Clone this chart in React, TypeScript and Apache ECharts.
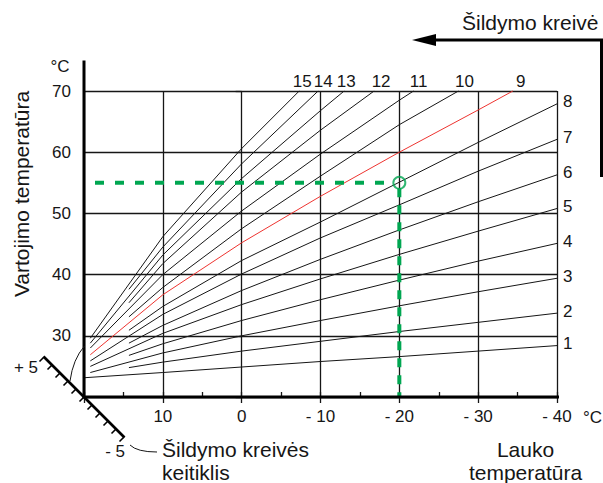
import React, { useEffect, useRef } from 'react';
import * as echarts from 'echarts';

// ---- data ----
const curveLabels = ['1', '2', '3', '4', '5', '6', '7', '8', '9', '10', '11', '12', '13', '14', '15'];
// [outdoor temperature °C, supply temperature °C]
const curve1 = [[21.7, 23.0], [10, 24.0], [0, 24.9], [-10, 25.8], [-20, 26.6], [-30, 27.5], [-40, 28.4]];
const curve2 = [[14.3, 24.8], [10, 25.7], [0, 27.5], [-10, 29.1], [-20, 30.7], [-30, 32.2], [-40, 33.7]];
const curve3 = [[19.2, 24.0], [10, 27.2], [0, 30.0], [-10, 32.5], [-20, 34.9], [-30, 37.2], [-40, 39.4]];
const curve4 = [[14.3, 26.8], [10, 28.7], [0, 32.5], [-10, 35.9], [-20, 39.1], [-30, 42.2], [-40, 45.1]];
const curve5 = [[19.2, 25.0], [10, 30.4], [0, 35.1], [-10, 39.3], [-20, 43.3], [-30, 47.1], [-40, 50.8]];
const curve6 = [[14.3, 28.8], [10, 31.7], [0, 37.4], [-10, 42.5], [-20, 47.3], [-30, 51.9], [-40, 56.3]];
const curve7 = [[19.2, 25.9], [10, 33.5], [0, 40.1], [-10, 46.0], [-20, 51.4], [-30, 56.9], [-40, 62.1]];
const curve8 = [[14.3, 30.9], [10, 34.8], [0, 42.3], [-10, 48.6], [-20, 55.1], [-30, 61.6], [-40, 67.9]];
const curve9 = [[19.2, 26.9], [10, 36.7], [0, 45.2], [-10, 52.8], [-20, 60.0], [-30, 66.9], [-34.4, 70]];
const curve10 = [[14.3, 33.1], [10, 37.9], [0, 47.5], [-10, 56.1], [-20, 64.5], [-27.5, 70]];
const curve11 = [[19.2, 28.0], [10, 40.0], [0, 50.4], [-10, 59.7], [-20, 68.5], [-21.8, 70]];
const curve12 = [[14.3, 35.4], [10, 41.8], [0, 53.5], [-10, 63.6], [-16.8, 70]];
const curve13 = [[19.2, 28.8], [10, 43.2], [0, 55.7], [-10, 66.8], [-13, 70]];
const curve14 = [[14.3, 37.6], [10, 44.5], [0, 58.1], [-9.7, 70]];
const curve15 = [[19.2, 29.6], [10, 46.2], [0, 60.6], [-7.3, 70]];
const curves = [curve1, curve2, curve3, curve4, curve5, curve6, curve7, curve8, curve9, curve10, curve11, curve12, curve13, curve14, curve15];
const highlightedCurve = '9';
const examplePoint = [-20, 55]; // outdoor -20 °C -> supply 55 °C
const xRange = [-40, 20];
const yRange = [20, 70];
const xAxisExtentEnd = -44;
const yAxisExtentEnd = 75;

// ---- styles ----
const FONT = '"Liberation Sans", Arial, Helvetica, sans-serif';
const INK = '#161616';
const RED = '#ee3430';
const GREEN = '#00a651';
// label offsets (dx) for curves ending at the top border
const topLabelDx: Record<string, number> = { '9': 8, '10': 6, '11': 5, '12': 7, '13': 2, '14': 5, '15': 3 };

export default function App() {
  const ref = useRef<HTMLDivElement>(null);
  useEffect(() => {
    const chart = echarts.init(ref.current!, null, { renderer: 'svg' });

    const series: any[] = [];
    curves.forEach((pts, i) => {
      const name = curveLabels[i];
      const last = pts.length - 1;
      const atTop = pts[last][1] >= yRange[1];
      series.push({
        type: 'line',
        name,
        xAxisIndex: 0,
        yAxisIndex: 0,
        clip: false,
        silent: true,
        smooth: false,
        symbol: 'circle',
        symbolSize: 0,
        showSymbol: true,
        itemStyle: { borderWidth: 0, color: 'rgba(0,0,0,0)' },
        lineStyle: { color: name === highlightedCurve ? RED : INK, width: 1 },
        emphasis: { disabled: true },
        z: name === highlightedCurve ? 4 : 3,
        data: pts.map((p, j) =>
          j === last
            ? {
                value: p,
                label: {
                  show: true,
                  formatter: name,
                  position: atTop ? 'top' : 'right',
                  distance: atTop ? 1 : 6,
                  offset: atTop ? [topLabelDx[name] || 0, 0] : [0, -2],
                  fontSize: 17,
                  lineHeight: 17,
                  fontFamily: FONT,
                  color: INK,
                },
              }
            : { value: p }
        ),
      });
    });

    // example: dashed guide lines and circle
    series.push({
      type: 'line',
      silent: true,
      clip: false,
      symbol: 'none',
      z: 6,
      lineStyle: { color: GREEN, width: 4, type: [9, 11], dashOffset: 9 },
      data: [[xRange[1], examplePoint[1]], [examplePoint[0] + 0.8, examplePoint[1]]],
    });
    series.push({
      type: 'line',
      silent: true,
      clip: false,
      symbol: 'none',
      z: 6,
      lineStyle: { color: GREEN, width: 4, type: [9, 8], dashOffset: 0 },
      data: [[examplePoint[0], examplePoint[1] - 0.9], [examplePoint[0], yRange[0]]],
    });
    series.push({
      type: 'scatter',
      silent: true,
      clip: false,
      z: 7,
      symbol: 'circle',
      symbolSize: 12,
      itemStyle: { color: 'rgba(255,255,255,0)', borderColor: GREEN, borderWidth: 2 },
      data: [examplePoint],
    });

    // thick axis lines (extend beyond the grid)
    series.push({
      type: 'line',
      silent: true,
      clip: false,
      symbol: 'none',
      z: 8,
      lineStyle: { color: '#000', width: 3 },
      data: [[xRange[1], yRange[0] - 0.25], [xRange[1], yAxisExtentEnd]],
    });
    series.push({
      type: 'line',
      silent: true,
      clip: false,
      symbol: 'none',
      z: 8,
      lineStyle: { color: '#000', width: 3 },
      data: [[xRange[1], yRange[0]], [xAxisExtentEnd, yRange[0]]],
    });

    const labelStyle = { fontSize: 17, fontFamily: FONT, color: INK };

    chart.setOption({
      animation: false,
      backgroundColor: '#fff',
      grid: { left: 84, right: 46, top: 91, bottom: 86, containLabel: false, outerBoundsMode: 'none' },
      xAxis: [
        {
          type: 'value',
          min: xRange[0],
          max: xRange[1],
          interval: 10,
          inverse: true,
          axisLine: { show: false },
          axisTick: { show: true, length: 6, lineStyle: { color: INK, width: 1.3 } },
          axisLabel: {
            ...labelStyle,
            margin: 11,
            formatter: (v: number) => (v === xRange[1] ? '' : v < 0 ? '- ' + -v : String(v)),
          },
          splitLine: { show: true, lineStyle: { color: INK, width: 1.3 } },
        },
        {
          type: 'value',
          min: xRange[0],
          max: xRange[1],
          interval: 5,
          inverse: true,
          position: 'bottom',
          axisLine: { show: false },
          axisTick: { show: true, inside: true, length: 5, lineStyle: { color: INK, width: 1.3 } },
          axisLabel: { show: false },
          splitLine: { show: false },
        },
      ],
      yAxis: {
        type: 'value',
        min: yRange[0],
        max: yRange[1],
        interval: 10,
        axisLine: { show: false },
        axisTick: { show: true, length: 6, lineStyle: { color: INK, width: 1.3 } },
        axisLabel: {
          ...labelStyle,
          margin: 13,
          formatter: (v: number) => (v === yRange[0] ? '' : String(v)),
        },
        splitLine: { show: true, lineStyle: { color: INK, width: 1.3 } },
      },
      series,
    });

    // decorations positioned from the chart's own scale
    const o = chart.convertToPixel({ gridIndex: 0 }, [xRange[1], yRange[0]]) as number[];
    const ox = o[0];
    const oy = o[1];
    const step = 8.0;
    const scaleTicks: any[] = [];
    for (let k = -5; k <= 5; k++) {
      const px = ox + k * step;
      const py = oy + k * step;
      scaleTicks.push({
        type: 'line',
        shape: { x1: px, y1: py, x2: px - 4.5, y2: py + 4.5 },
        style: { stroke: '#000', lineWidth: 1.6 },
        z: 20,
      });
    }
    const text = (t: string, x: number, y: number, size: number, align: string, extra: any = {}) => ({
      type: 'text',
      x,
      y,
      z: 30,
      ...extra,
      style: {
        text: t,
        x: 0,
        y: 0,
        fontSize: size,
        fontFamily: FONT,
        fill: INK,
        align,
        textAlign: align,
        verticalAlign: 'middle',
        textVerticalAlign: 'middle',
      },
    });

    chart.setOption({
      graphic: [
        // heating-curve shifter scale
        {
          type: 'line',
          shape: { x1: ox - 5 * step - 0.5, y1: oy - 5 * step - 0.5, x2: ox + 5 * step + 0.5, y2: oy + 5 * step + 0.5 },
          style: { stroke: '#000', lineWidth: 2.6 },
          z: 20,
        },
        ...scaleTicks,
        {
          type: 'bezierCurve',
          shape: { x1: ox - 14, y1: oy - 16, cpx1: ox - 11, cpy1: oy - 38, x2: ox + 0.5, y2: oy - 51 },
          style: { stroke: INK, lineWidth: 1, fill: 'none' },
          z: 20,
        },
        {
          type: 'bezierCurve',
          shape: { x1: 130, y1: 445, cpx1: 137, cpy1: 452, x2: 157, y2: 452 },
          style: { stroke: INK, lineWidth: 1, fill: 'none' },
          z: 20,
        },
        // arrow "Šildymo kreivė"
        {
          type: 'polyline',
          shape: { points: [[434, 40], [601.5, 40], [601.5, 177]] },
          style: { stroke: '#000', lineWidth: 3, fill: 'none' },
          z: 20,
        },
        {
          type: 'polygon',
          shape: { points: [[412, 40], [436, 34], [436, 46]] },
          style: { fill: '#000' },
          z: 20,
        },
        text('Šildymo kreivė', 462, 22.5, 21, 'left'),
        text('°C', 60, 66, 17, 'center'),
        text('Vartojimo temperatūra', 21, 194, 21, 'center', { rotation: Math.PI / 2 }),
        text('°C', 583, 417, 17, 'left'),
        text('Lauko', 525.5, 449.5, 21, 'center'),
        text('temperatūra', 525.5, 472.5, 21, 'center'),
        text('+ 5', 26, 367, 17, 'center'),
        text('- 5', 125, 451.5, 17, 'right'),
        text('Šildymo kreivės', 162, 449.5, 21, 'left'),
        text('keitiklis', 162, 472.5, 21, 'left'),
      ],
    });

    return () => chart.dispose();
  }, []);

  return <div ref={ref} style={{ position: 'fixed', left: 0, top: 0, width: 603, height: 483, background: '#fff' }} />;
}
